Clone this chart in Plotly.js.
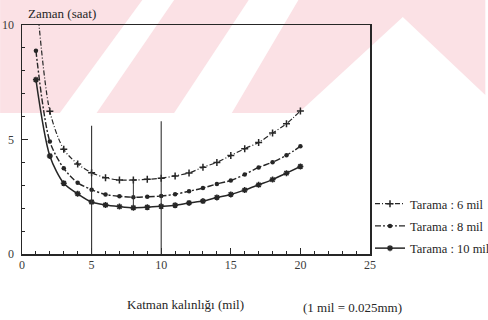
<!DOCTYPE html>
<html>
<head>
<meta charset="utf-8">
<script src="https://cdn.plot.ly/plotly-3.0.1.min.js"></script>
<style>html,body{margin:0;padding:0;background:#fff;}#chart{width:488px;height:320px;}</style>
</head>
<body>
<div id="chart"></div>
<script>
// ---- data ----
var thickness = [1,2,3,4,5,6,7,8,9,10,11,12,13,14,15,16,17,18,19,20];
var time6mil  = [11.5,6.23,4.57,3.93,3.55,3.33,3.23,3.23,3.26,3.31,3.41,3.54,3.79,4.00,4.30,4.60,4.87,5.28,5.69,6.25];
var time8mil  = [8.88,4.91,3.74,3.11,2.81,2.60,2.52,2.48,2.50,2.53,2.61,2.74,2.88,3.06,3.21,3.47,3.78,4.01,4.31,4.70];
var time10mil = [7.61,4.28,3.09,2.63,2.27,2.14,2.07,2.02,2.04,2.08,2.13,2.23,2.31,2.47,2.60,2.79,3.02,3.25,3.53,3.82];
var seriesNames = ["Tarama : 6 mil", "Tarama : 8 mil", "Tarama : 10 mil"];
var refLineX = [5, 10];
var refLineTop = [5.6, 5.8];
var minMarkX = [8];
var minMarkLow = [2.05];
var minMarkHigh = [3.25];
var xTickVals = [0,5,10,15,20,25];
var yTickVals = [0,5,10];

// ---- layout geometry ----
var W = 488, H = 320;
var L = 22, R = 116, T = 25, B = 66;
var PW = W - L - R, PH = H - T - B;
function px(x){ return (x - L) / PW; }
function py(y){ return (H - B - y) / PH; }
function path(pts){
  return pts.map(function(p,i){ return (i ? 'L' : 'M') + px(p[0]).toFixed(4) + ',' + py(p[1]).toFixed(4); }).join(' ') + ' Z';
}

var ink = '#262626';
var serif = 'Liberation Serif, Times New Roman, serif';

var traces = [
  {x: thickness, y: time6mil, name: seriesNames[0], legendgroup: 'a', mode: 'lines+markers',
   line: {color: ink, width: 1.2, dash: '5px,2px,1px,2px', shape: 'spline', smoothing: 0.8},
   marker: {symbol: 'cross-thin', size: 5, color: ink, line: {color: ink, width: 1.5}}},
  {x: thickness, y: time8mil, name: seriesNames[1], legendgroup: 'b', mode: 'lines+markers',
   line: {color: ink, width: 1.4, dash: '6px,2px,2px,2px', shape: 'spline', smoothing: 0.8},
   marker: {symbol: 'circle', size: 4.5, color: ink}},
  {x: thickness, y: time10mil, name: seriesNames[2], legendgroup: 'c', mode: 'lines+markers',
   line: {color: ink, width: 1.5, shape: 'spline', smoothing: 0.8},
   marker: {symbol: 'asterisk', size: 5, color: ink, line: {color: ink, width: 1.5}}}
];

var shapes = [];
// scanned-page watermark (pink diagonal bands)
var pink = '#fbe1e5';
[
  [[0,0],[143,0],[60,113],[0,113]],
  [[175,0],[250,0],[175,113],[97,113]],
  [[300,0],[488,0],[488,95],[405,17],[300,113],[233,113]]
].forEach(function(poly){
  shapes.push({type: 'path', xref: 'paper', yref: 'paper', path: path(poly),
    fillcolor: pink, line: {width: 0}, layer: 'below'});
});
refLineX.forEach(function(x, i){
  shapes.push({type: 'line', xref: 'x', yref: 'y', x0: x, x1: x, y0: 0, y1: refLineTop[i],
    line: {color: '#333', width: 1.1}});
});
minMarkX.forEach(function(x, i){
  shapes.push({type: 'line', xref: 'x', yref: 'y', x0: x, x1: x, y0: minMarkLow[i], y1: minMarkHigh[i],
    line: {color: '#333', width: 1}});
});

var axisCommon = {
  showline: true, mirror: true, linecolor: ink, linewidth: 1.5,
  ticks: 'inside', ticklen: 6, tickwidth: 1.2, tickcolor: ink,
  showgrid: false, zeroline: false,
  tickfont: {family: serif, size: 12, color: '#3a3a3a'},
  minor: {ticks: 'inside', ticklen: 3, tickwidth: 1, tickcolor: ink, showgrid: false}
};

function note(text, x, y){
  return {text: text, xref: 'paper', yref: 'paper', x: px(x), y: py(y),
    xanchor: 'center', yanchor: 'middle', showarrow: false,
    font: {family: serif, size: 13, color: ink}};
}

var layout = {
  width: W, height: H,
  margin: {l: L, r: R, t: T, b: B, pad: 0},
  paper_bgcolor: '#ffffff', plot_bgcolor: 'rgba(0,0,0,0)',
  showlegend: true,
  xaxis: Object.assign({}, axisCommon, {range: [0, 25], tickvals: xTickVals,
    minor: Object.assign({}, axisCommon.minor, {dtick: 1, tick0: 0}), ticklabelstandoff: -1}),
  yaxis: Object.assign({}, axisCommon, {range: [0, 10], tickvals: yTickVals,
    minor: Object.assign({}, axisCommon.minor, {dtick: 1, tick0: 0}), ticklabelstandoff: 4}),
  legend: {xref: 'container', yref: 'container', x: 370 / W, y: 1 - 189 / H,
    xanchor: 'left', yanchor: 'top',
    bgcolor: 'rgba(0,0,0,0)', borderwidth: 0, itemwidth: 30,
    traceorder: 'grouped', tracegroupgap: 3,
    font: {family: serif, size: 12.5, color: ink}},
  shapes: shapes,
  annotations: [
    note('Zaman (saat)', 62, 13),
    note('Katman kalınlığı (mil)', 186, 304),
    note('(1 mil = 0.025mm)', 354, 307)
  ]
};

Plotly.newPlot('chart', traces, layout, {displayModeBar: false, staticPlot: true});
</script>
</body>
</html>
